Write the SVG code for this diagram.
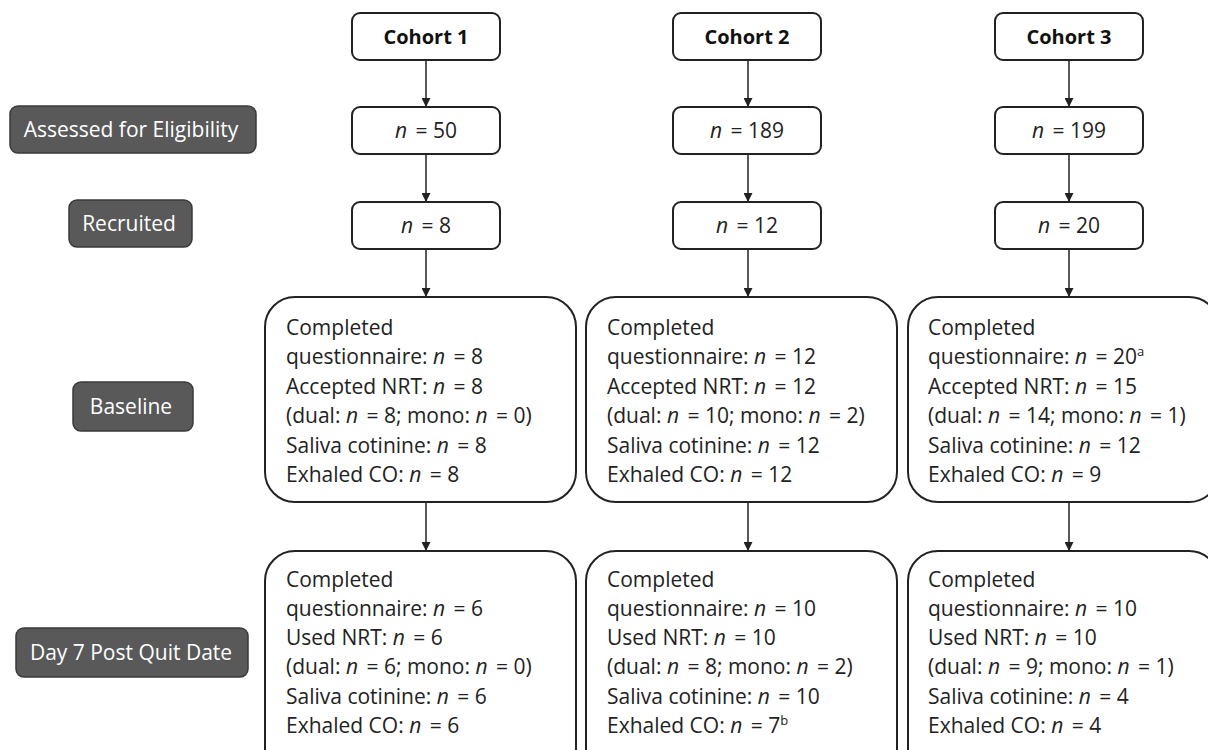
<svg xmlns="http://www.w3.org/2000/svg" width="1208" height="750" viewBox="0 0 1208 750">
<defs>
<marker id="ah" markerUnits="userSpaceOnUse" markerWidth="9" markerHeight="9" refX="9" refY="4.5" orient="auto">
<path d="M0,0 L9,4.5 L0,9 z" fill="#222"/>
</marker>
<style>
.box{fill:#fff;stroke:#222;stroke-width:2}
.lab{fill:#595959;stroke:#3a3a3a;stroke-width:1.5}
.t{font-family:"Open Sans","Noto Sans",sans-serif;font-size:21px;fill:#222}
.h{font-family:"Open Sans","Noto Sans",sans-serif;font-size:20px;font-weight:bold;fill:#111;text-anchor:middle}
.c{text-anchor:middle}
.w{font-family:"Open Sans","Noto Sans",sans-serif;font-size:21px;fill:#fff;text-anchor:middle}
.i{font-style:italic}
.g{}
.sup{font-size:13px}
.con{stroke:#222;stroke-width:1.5;fill:none;marker-end:url(#ah)}
</style>
</defs>
<rect width="1208" height="750" fill="#fff"/>

<g id="labels">
<g id="lab-assessed"><rect class="lab" x="10" y="106" width="246" height="47" rx="8"/><text class="w" x="131" y="137">Assessed for Eligibility</text></g>
<g id="lab-recruited"><rect class="lab" x="69" y="200" width="123" height="47" rx="8"/><text class="w" x="129" y="231">Recruited</text></g>
<g id="lab-baseline"><rect class="lab" x="73" y="382" width="120" height="49" rx="8"/><text class="w" x="131" y="414">Baseline</text></g>
<g id="lab-day7"><rect class="lab" x="16" y="628" width="232" height="49" rx="8"/><text class="w" x="131" y="660">Day 7 Post Quit Date</text></g>
</g>

<g id="connectors">
<line class="con" x1="426" y1="60" x2="426" y2="107"/>
<line class="con" x1="426" y1="154" x2="426" y2="202"/>
<line class="con" x1="426" y1="249" x2="426" y2="297"/>
<line class="con" x1="426" y1="502" x2="426" y2="551"/>
<line class="con" x1="748" y1="60" x2="748" y2="107"/>
<line class="con" x1="748" y1="154" x2="748" y2="202"/>
<line class="con" x1="748" y1="249" x2="748" y2="297"/>
<line class="con" x1="748" y1="502" x2="748" y2="551"/>
<line class="con" x1="1069" y1="60" x2="1069" y2="107"/>
<line class="con" x1="1069" y1="154" x2="1069" y2="202"/>
<line class="con" x1="1069" y1="249" x2="1069" y2="297"/>
<line class="con" x1="1069" y1="502" x2="1069" y2="551"/>
</g>

<g id="cohort1"><rect class="box" x="352" y="13" width="148" height="47" rx="8"/><text class="h" x="426" y="44">Cohort 1</text></g>
<g id="cohort2"><rect class="box" x="673" y="13" width="148" height="47" rx="8"/><text class="h" x="747" y="44">Cohort 2</text></g>
<g id="cohort3"><rect class="box" x="995" y="13" width="148" height="47" rx="8"/><text class="h" x="1069" y="44">Cohort 3</text></g>

<g id="c1-assessed"><rect class="box" x="352" y="107" width="148" height="47" rx="8"/><text class="t c" x="426" y="138"><tspan class="i">n</tspan><tspan dx="3"> = 50</tspan></text></g>
<g id="c2-assessed"><rect class="box" x="673" y="107" width="148" height="47" rx="8"/><text class="t c" x="747" y="138"><tspan class="i">n</tspan><tspan dx="3"> = 189</tspan></text></g>
<g id="c3-assessed"><rect class="box" x="995" y="107" width="148" height="47" rx="8"/><text class="t c" x="1069" y="138"><tspan class="i">n</tspan><tspan dx="3"> = 199</tspan></text></g>

<g id="c1-recruited"><rect class="box" x="352" y="202" width="148" height="47" rx="8"/><text class="t c" x="426" y="233"><tspan class="i">n</tspan><tspan dx="3"> = 8</tspan></text></g>
<g id="c2-recruited"><rect class="box" x="673" y="202" width="148" height="47" rx="8"/><text class="t c" x="747" y="233"><tspan class="i">n</tspan><tspan dx="3"> = 12</tspan></text></g>
<g id="c3-recruited"><rect class="box" x="995" y="202" width="148" height="47" rx="8"/><text class="t c" x="1069" y="233"><tspan class="i">n</tspan><tspan dx="3"> = 20</tspan></text></g>

<g id="c1-baseline"><rect class="box" x="265" y="297" width="311" height="205" rx="30"/>
<text class="t" x="286" y="335">Completed</text>
<text class="t" x="286" y="364">questionnaire: <tspan class="i">n</tspan><tspan dx="3"> = 8</tspan></text>
<text class="t" x="286" y="394">Accepted NRT: <tspan class="i">n</tspan><tspan dx="3"> = 8</tspan></text>
<text class="t" x="286" y="423">(dual: <tspan class="i">n</tspan><tspan dx="3"> = 8; mono: </tspan><tspan class="i">n</tspan><tspan dx="3"> = 0)</tspan></text>
<text class="t" x="286" y="453">Saliva cotinine: <tspan class="i">n</tspan><tspan dx="3"> = 8</tspan></text>
<text class="t" x="286" y="482">Exhaled CO: <tspan class="i">n</tspan><tspan dx="3"> = 8</tspan></text>
</g>
<g id="c2-baseline"><rect class="box" x="586" y="297" width="311" height="205" rx="30"/>
<text class="t" x="607" y="335">Completed</text>
<text class="t" x="607" y="364">questionnaire: <tspan class="i">n</tspan><tspan dx="3"> = 12</tspan></text>
<text class="t" x="607" y="394">Accepted NRT: <tspan class="i">n</tspan><tspan dx="3"> = 12</tspan></text>
<text class="t" x="607" y="423">(dual: <tspan class="i">n</tspan><tspan dx="3"> = 10; mono: </tspan><tspan class="i">n</tspan><tspan dx="3"> = 2)</tspan></text>
<text class="t" x="607" y="453">Saliva cotinine: <tspan class="i">n</tspan><tspan dx="3"> = 12</tspan></text>
<text class="t" x="607" y="482">Exhaled CO: <tspan class="i">n</tspan><tspan dx="3"> = 12</tspan></text>
</g>
<g id="c3-baseline"><rect class="box" x="908" y="297" width="311" height="205" rx="30"/>
<text class="t" x="928" y="335">Completed</text>
<text class="t" x="928" y="364">questionnaire: <tspan class="i">n</tspan><tspan dx="3"> = 20</tspan><tspan class="sup" dy="-8">a</tspan></text>
<text class="t" x="928" y="394">Accepted NRT: <tspan class="i">n</tspan><tspan dx="3"> = 15</tspan></text>
<text class="t" x="928" y="423">(dual: <tspan class="i">n</tspan><tspan dx="3"> = 14; mono: </tspan><tspan class="i">n</tspan><tspan dx="3"> = 1)</tspan></text>
<text class="t" x="928" y="453">Saliva cotinine: <tspan class="i">n</tspan><tspan dx="3"> = 12</tspan></text>
<text class="t" x="928" y="482">Exhaled CO: <tspan class="i">n</tspan><tspan dx="3"> = 9</tspan></text>
</g>

<g id="c1-day7"><rect class="box" x="265" y="551" width="311" height="230" rx="30"/>
<text class="t" x="286" y="587">Completed</text>
<text class="t" x="286" y="616">questionnaire: <tspan class="i">n</tspan><tspan dx="3"> = 6</tspan></text>
<text class="t" x="286" y="645">Used NRT: <tspan class="i">n</tspan><tspan dx="3"> = 6</tspan></text>
<text class="t" x="286" y="674">(dual: <tspan class="i">n</tspan><tspan dx="3"> = 6; mono: </tspan><tspan class="i">n</tspan><tspan dx="3"> = 0)</tspan></text>
<text class="t" x="286" y="704">Saliva cotinine: <tspan class="i">n</tspan><tspan dx="3"> = 6</tspan></text>
<text class="t" x="286" y="733">Exhaled CO: <tspan class="i">n</tspan><tspan dx="3"> = 6</tspan></text>
</g>
<g id="c2-day7"><rect class="box" x="586" y="551" width="311" height="230" rx="30"/>
<text class="t" x="607" y="587">Completed</text>
<text class="t" x="607" y="616">questionnaire: <tspan class="i">n</tspan><tspan dx="3"> = 10</tspan></text>
<text class="t" x="607" y="645">Used NRT: <tspan class="i">n</tspan><tspan dx="3"> = 10</tspan></text>
<text class="t" x="607" y="674">(dual: <tspan class="i">n</tspan><tspan dx="3"> = 8; mono: </tspan><tspan class="i">n</tspan><tspan dx="3"> = 2)</tspan></text>
<text class="t" x="607" y="704">Saliva cotinine: <tspan class="i">n</tspan><tspan dx="3"> = 10</tspan></text>
<text class="t" x="607" y="733">Exhaled CO: <tspan class="i">n</tspan><tspan dx="3"> = 7</tspan><tspan class="sup" dy="-8">b</tspan></text>
</g>
<g id="c3-day7"><rect class="box" x="908" y="551" width="311" height="230" rx="30"/>
<text class="t" x="928" y="587">Completed</text>
<text class="t" x="928" y="616">questionnaire: <tspan class="i">n</tspan><tspan dx="3"> = 10</tspan></text>
<text class="t" x="928" y="645">Used NRT: <tspan class="i">n</tspan><tspan dx="3"> = 10</tspan></text>
<text class="t" x="928" y="674">(dual: <tspan class="i">n</tspan><tspan dx="3"> = 9; mono: </tspan><tspan class="i">n</tspan><tspan dx="3"> = 1)</tspan></text>
<text class="t" x="928" y="704">Saliva cotinine: <tspan class="i">n</tspan><tspan dx="3"> = 4</tspan></text>
<text class="t" x="928" y="733">Exhaled CO: <tspan class="i">n</tspan><tspan dx="3"> = 4</tspan></text>
</g>
</svg>
